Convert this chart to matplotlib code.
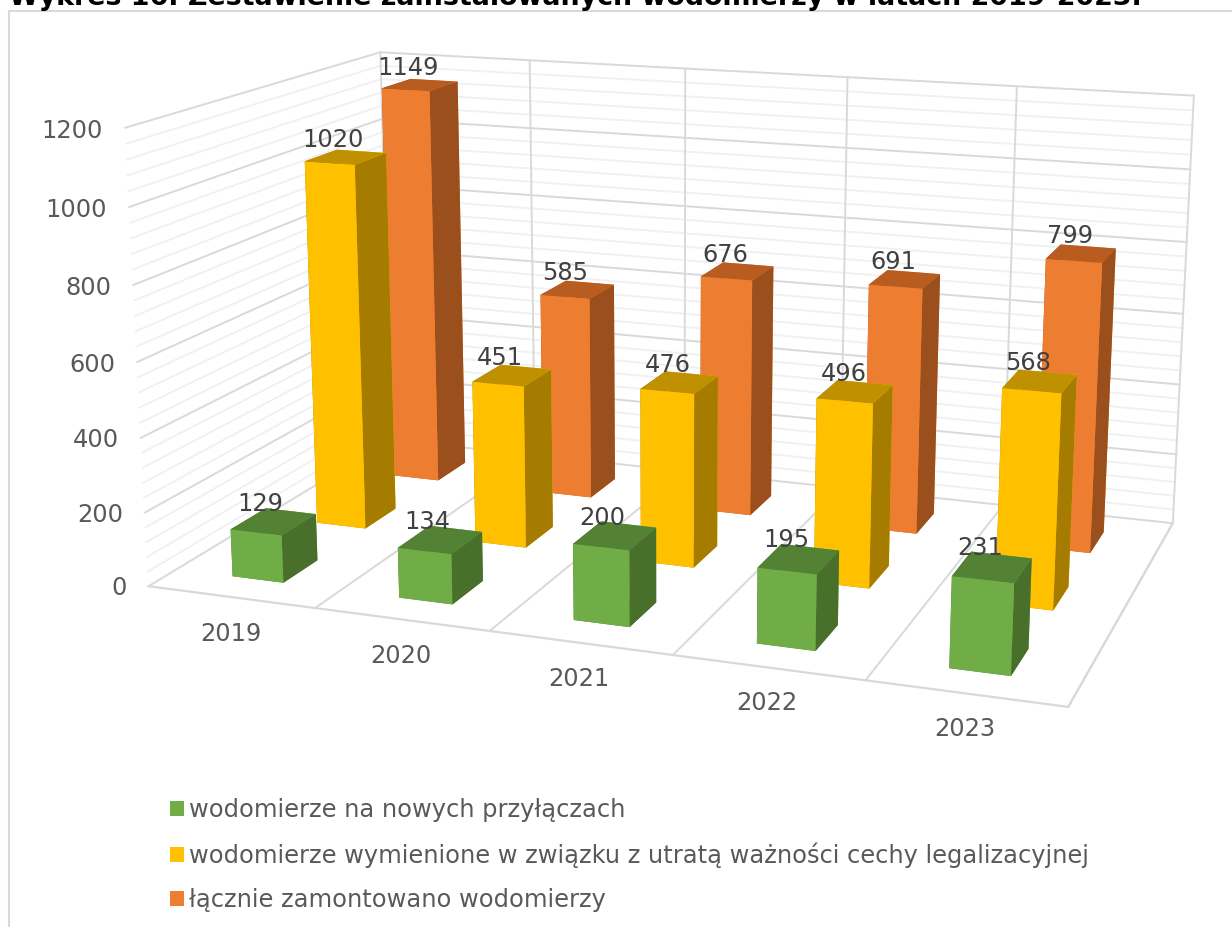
import numpy as np, matplotlib
matplotlib.use('Agg')
import matplotlib.pyplot as plt
from matplotlib.patches import Patch
from matplotlib.lines import Line2D
from mpl_toolkits.mplot3d import proj3d

years = ['2019', '2020', '2021', '2022', '2023']
series_names = ['wodomierze na nowych przyłączach',
                'wodomierze wymienione w związku z utratą ważności cechy legalizacyjnej',
                'łącznie zamontowano wodomierzy']
new_connections = [129, 134, 200, 195, 231]
replaced = [1020, 451, 476, 496, 568]
total = [1149, 585, 676, 691, 799]
z_major = [0, 200, 400, 600, 800, 1000, 1200]
z_minor = [40, 80, 120, 160, 240, 280, 320, 360, 440, 480, 520, 560, 640, 680, 720, 760, 840, 880, 920, 960, 1040, 1080, 1120, 1160]
title = 'Wykres 16. Zestawienie zainstalowanych wodomierzy w latach 2019-2023.'

face = ['#70AD47', '#FFC000', '#ED7D31']
top = ['#548235', '#BF9000', '#B85C20']
side = ['#48702B', '#A67C00', '#9A4F1C']
GRID = '#D9D9D9'; MINOR = '#F0F0F0'

W, H = 1232, 927
plt.rcParams['font.family'] = ['DejaVu Sans']
fig = plt.figure(figsize=(W/100, H/100), dpi=100)
ax = fig.add_subplot(projection='3d', computed_zorder=False)
ax.set_xlim(0, 5, view_margin=0); ax.set_ylim(0, 3, view_margin=0); ax.set_zlim(0, 1200, view_margin=0)
ax.view_init(14.146, -70.225, -0.063)
ax.set_proj_type('persp', focal_length=0.4331)
ax.set_box_aspect((2.0053, 1.1910, 1))
s = 1123.6; cx = 664.41; cy = 352.19
ax.set_position([(cx-s/2)/W, (H-cy-s/2)/H, s/W, s/H])
ax.set_axis_off()

def label3d(x, y, z, txt, dx=0, dy=0, **kw):
    xp, yp, _ = proj3d.proj_transform(x, y, z, ax.get_proj())
    ax.annotate(txt, xy=(xp, yp), xycoords='data', xytext=(dx, dy), textcoords='offset pixels',
                annotation_clip=False, zorder=20, **kw)

n = len(years)
for z in z_minor:
    ax.plot([0, 0, n], [0, 3, 3], [z, z, z], color=MINOR, lw=1.3, zorder=1)
for z in z_major[1:]:
    ax.plot([0, 0, n], [0, 3, 3], [z, z, z], color=GRID, lw=1.4, zorder=1.5)
for i in range(1, n+1):
    ax.plot([i, i], [3, 3], [0, 1200], color=GRID, lw=1.4, zorder=1.5)
for i in range(0, n+1):
    ax.plot([i, i], [0, 3], [0, 0], color=GRID, lw=1.4, zorder=1.5)
ax.plot([0, n, n], [0, 0, 3], [0, 0, 0], color=GRID, lw=1.6, zorder=1.5)
ax.plot([0, n], [3, 3], [0, 0], color=GRID, lw=1.4, zorder=1.5)
ax.plot([0, 0], [3, 3], [0, 1200], color=GRID, lw=1.4, zorder=1.5)

FS = 17.35
bw, bd = 0.31, 0.40
values = [new_connections, replaced, total]
label_dx = [-13, -12, -12]
for r in (2, 1, 0):
    for i in range(n):
        v = values[r][i]
        cols = [top[r], top[r], face[r], face[r], side[r], side[r]]
        ax.bar3d(i+0.5-bw/2, r+0.5-bd/2, 0, bw, bd, v, color=cols, shade=False,
                 linewidth=0, edgecolor='none', zorder=3+(2-r)+i*0.1)
        label3d(i+0.5, r+0.5, v+45, str(v), dx=label_dx[r], dy=1, ha='center', va='center',
                fontsize=FS, color='#404040')

for z in z_major:
    label3d(-0.14, 0, z, str(z), dx=1, dy=-5, ha='right', va='center', fontsize=FS, color='#595959')
for i, y in enumerate(years):
    label3d(i+0.5, -0.22, 0, y, dx=21-2.75*i, dy=-(23.5-i), ha='center', va='center', fontsize=FS, color='#595959')

fig.text(575/W, 1-5/H, title, ha='center', va='baseline', fontsize=19.4, fontweight='bold', color='black')
fig.add_artist(Line2D([9/W, 9/W], [0, 1-10.5/H], color=GRID, lw=1.5))
fig.add_artist(Line2D([9/W, 1], [1-10.5/H, 1-10.5/H], color=GRID, lw=1.5))

handles = [Patch(facecolor=c, edgecolor='none') for c in face]
fs_px = FS*100/72
fig.legend(handles, series_names, loc='upper left', bbox_to_anchor=(170/W, 1-798/H), bbox_transform=fig.transFigure,
           frameon=False, fontsize=FS, handlelength=14/fs_px, handleheight=14/fs_px, handletextpad=0.2,
           labelspacing=0.835, borderpad=0, borderaxespad=0, labelcolor='#595959')
fig.savefig('out.png', dpi=100)
